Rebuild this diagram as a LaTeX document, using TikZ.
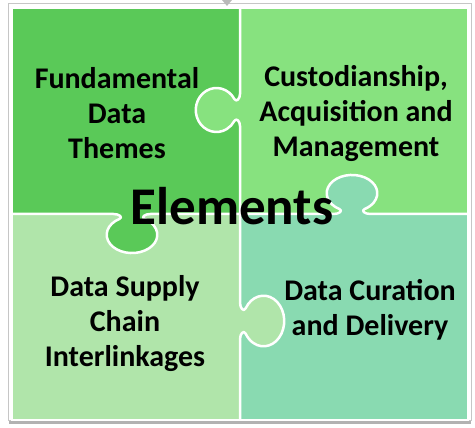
\documentclass[tikz,border=0pt]{standalone}
\usepackage{fontspec}
\setmainfont{Carlito}

\definecolor{themegreen}{HTML}{5AC958}
\definecolor{custgreen}{HTML}{87E27F}
\definecolor{supplygreen}{HTML}{B0E5AA}
\definecolor{curegreen}{HTML}{89DAB1}

\begin{document}
\begin{tikzpicture}[x=1pt, y=1pt,
    seam/.style={draw=white, line width=2.5pt, line join=round},
    knobat/.style n args={4}{shift={(#1)}, rotate=#2, xscale=#3, yscale=#4},
    knobshape/.style={insert path={-- (-16,0) .. controls (-11,0) and (-7.5,4) .. (-11,6)
        arc[start angle=240, end angle=-60, radius=22] .. controls (7.5,4) and (11,0) .. (16,0)}},
    piecetext/.style={font=\fontsize{30}{35}\selectfont\bfseries, align=center}]
    \useasboundingbox (0,0) rectangle (475,428);

    \draw[gray!45, line width=1pt] (8.5,7) rectangle (471,424.5);
    \draw[gray!60, line width=3pt] (9,5.5) -- (471,5.5);
    \fill[gray!55] (222,428) -- (232,428) -- (227,422) -- cycle;

    \fill[themegreen] (12,214) rectangle (240,420);
    \fill[custgreen] (240,214) rectangle (468,420);
    \fill[supplygreen] (12,8) rectangle (240,214);
    \fill[curegreen] (240,8) rectangle (468,214);

    \fill[themegreen] {[knobat={132,214}{0}{1.15}{-0.83}] (-16,0) [knobshape]} -- cycle;
    \fill[custgreen] {[knobat={240,318}{-90}{1}{-0.94}] (-16,0) [knobshape]} -- cycle;
    \fill[curegreen] {[knobat={352,214}{0}{1.15}{0.83}] (-16,0) [knobshape]} -- cycle;
    \fill[supplygreen] {[knobat={240,107}{-90}{1.15}{0.94}] (-16,0) [knobshape]} -- cycle;

    \draw[seam] (240,420) {[knobat={240,318}{-90}{1}{-0.94}, knobshape]}
        {[knobat={240,107}{-90}{1.15}{0.94}, knobshape]} -- (240,8);
    \draw[seam] (12,214) {[knobat={132,214}{0}{1.15}{-0.83}, knobshape]}
        {[knobat={352,214}{0}{1.15}{0.83}, knobshape]} -- (468,214);
    \draw[white, line width=1.5pt] (12,8) rectangle (468,420);

    \node[piecetext] (themes) at (117,315) {Fundamental\\Data\\Themes};
    \node[piecetext] (custody) at (356,314) {Custodianship,\\Acquisition and\\Management};
    \node[piecetext] (supply) at (125,104) {Data Supply\\Chain\\Interlinkages};
    \node[piecetext] (curation) at (370,118) {Data Curation\\and Delivery};
    \node[font=\fontsize{53}{60}\selectfont\bfseries, anchor=base] (elements) at (232,203) {Elements};
\end{tikzpicture}
\end{document}
